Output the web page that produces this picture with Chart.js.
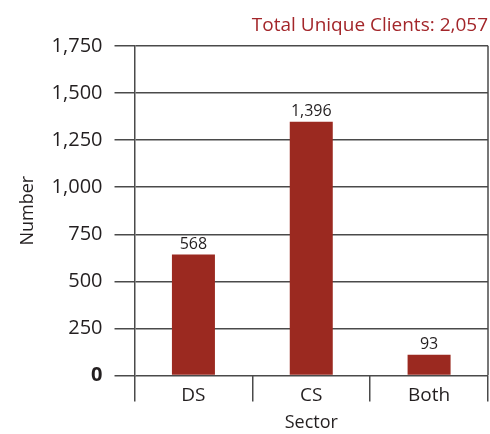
<!DOCTYPE html>
<html>
<head>
<meta charset="utf-8">
<script src="https://cdn.jsdelivr.net/npm/chart.js@4"></script>
<style>
  html, body { margin: 0; padding: 0; background: #fff; }
  #wrap { width: 490px; height: 434px; }
</style>
</head>
<body>
<div id="wrap"><canvas id="sectorChart" width="490" height="434"></canvas></div>
<script>
// data
var sectors = ['DS', 'CS', 'Both'];
var barHeights = [642, 1347, 110];          // bar tops as drawn
var valueLabels = ['568', '1,396', '93'];   // numbers printed above the bars
var yTicks = [0, 250, 500, 750, 1000, 1250, 1500, 1750];
var totalText = 'Total Unique Clients: 2,057';

var barColor = '#9b2920';
var inkColor = '#231f20';
var lineColor = '#4a4a4a';
var fontName = '"Open Sans", "Noto Sans", sans-serif';

// prints the value text above each bar and closes the right side of the plot
var barTextPlugin = {
    id: 'barText',
    afterDatasetsDraw: function (chart) {
        var ctx = chart.ctx;
        var meta = chart.getDatasetMeta(0);
        ctx.save();
        ctx.fillStyle = inkColor;
        ctx.font = '16px ' + fontName;
        ctx.textAlign = 'center';
        ctx.textBaseline = 'bottom';
        meta.data.forEach(function (bar, i) {
            ctx.fillText(valueLabels[i], bar.x, bar.y - 2);
        });
        var area = chart.chartArea;
        ctx.strokeStyle = lineColor;
        ctx.lineWidth = 1.5;
        ctx.beginPath();
        ctx.moveTo(area.right, area.top);
        ctx.lineTo(area.right, area.bottom);
        ctx.stroke();
        ctx.restore();
    }
};

var chart = new Chart(document.getElementById('sectorChart'), {
    type: 'bar',
    data: {
        labels: sectors,
        datasets: [{
            data: barHeights,
            backgroundColor: barColor,
            borderWidth: 0,
            barPercentage: 0.365,
            categoryPercentage: 1.0,
        }],
    },
    options: {
        responsive: false,
        animation: false,
        layout: {padding: {left: 17, right: 2, top: 0, bottom: 0}},
        plugins: {
            legend: {display: false},
            tooltip: {enabled: false},
            title: {
                display: true,
                text: totalText,
                align: 'end',
                color: '#a3262a',
                font: {family: fontName, size: 19, weight: 'normal'},
                padding: {top: 14, bottom: 9},
            },
        },
        scales: {
            x: {
                grid: {
                    offset: true,
                    drawOnChartArea: false,
                    tickLength: 26,
                    lineWidth: 1.5,
                    color: function (c) { return c.index === sectors.length ? 'rgba(0,0,0,0)' : lineColor; },
                },
                border: {display: false},
                ticks: {
                    color: inkColor,
                    font: {family: fontName, size: 19},
                    padding: -17,
                },
                title: {
                    display: true,
                    text: 'Sector',
                    color: inkColor,
                    font: {family: fontName, size: 18},
                    padding: {top: 22, bottom: 0},
                },
            },
            y: {
                min: 0,
                max: 1750,
                afterBuildTicks: function (axis) {
                    axis.ticks = yTicks.map(function (v) { return {value: v}; });
                },
                grid: {
                    tickLength: 20,
                    lineWidth: 1.5,
                    color: lineColor,
                },
                border: {display: true, color: lineColor, width: 1.5},
                ticks: {
                    color: inkColor,
                    padding: 12,
                    font: function (c) {
                        return {family: fontName, size: 20, weight: c.tick && c.tick.value === 0 ? 'bold' : 'normal'};
                    },
                    callback: function (v) { return v.toLocaleString('en-US'); },
                },
                title: {
                    display: true,
                    text: 'Number',
                    color: inkColor,
                    font: {family: fontName, size: 18},
                    padding: {top: 0, bottom: 1},
                },
            },
        },
    },
    plugins: [barTextPlugin],
});
</script>
</body>
</html>
